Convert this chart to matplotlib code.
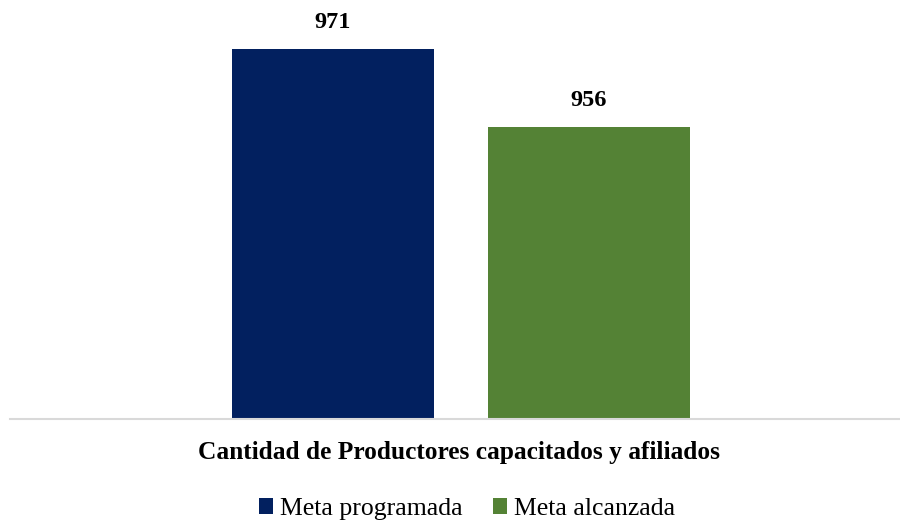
import matplotlib.pyplot as plt
from matplotlib.patches import Patch

categories = ["Meta programada", "Meta alcanzada"]
values = [971, 956]
colors = ["#02205F", "#548235"]
title = "Cantidad de Productores capacitados y afiliados"

plt.rcParams['font.family'] = ['Liberation Serif', 'DejaVu Serif']

fig = plt.figure(figsize=(9, 5.24), dpi=100)
ax = fig.add_axes([10 / 900, 105 / 524, 890 / 900, 419 / 524])

x = list(range(len(values)))
bars = ax.bar(x, values, width=0.789, color=colors, zorder=2)
for b, v in zip(bars, values):
    ax.text(b.get_x() + b.get_width() / 2, v + 3.0, str(v),
            ha='center', va='bottom', fontsize=17.5, fontweight='bold')

ax.set_xlim(-1.262, 2.215)
ax.set_ylim(900, 980.3)
ax.set_xticks([])
ax.set_yticks([])
for s in ['top', 'right', 'left']:
    ax.spines[s].set_visible(False)
ax.spines['bottom'].set_color('#d9d9d9')
ax.spines['bottom'].set_linewidth(1.5)

fig.text(459 / 900, 1 - 453 / 524, title, ha='center', va='center',
         fontsize=18.3, fontweight='bold')

handles = [Patch(facecolor=c, label=l) for c, l in zip(colors, categories)]
fig.legend(handles=handles, loc='center', bbox_to_anchor=(467 / 900, 1 - 509 / 524),
           ncol=2, frameon=False, fontsize=18.5, handlelength=0.55, handleheight=0.55,
           handletextpad=0.25, columnspacing=1.2, borderpad=0, borderaxespad=0)

fig.savefig('out.png', dpi=100)
